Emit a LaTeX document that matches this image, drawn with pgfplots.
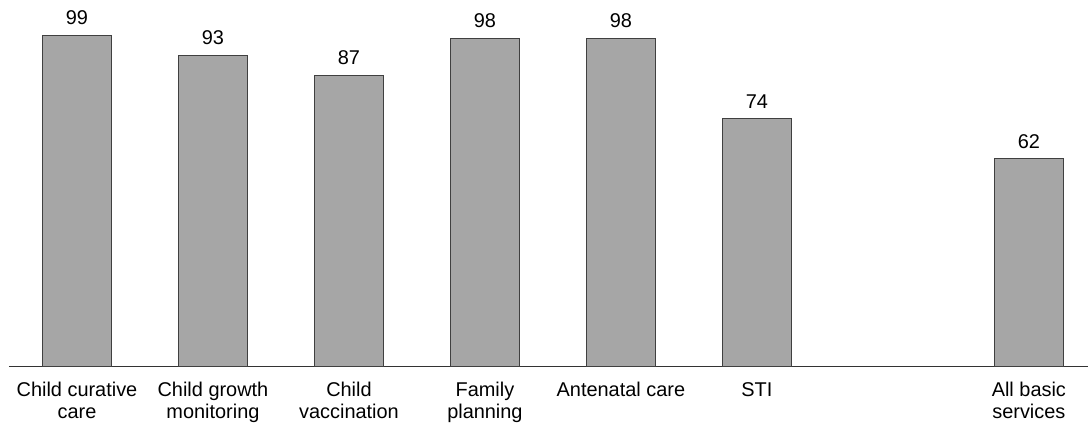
\documentclass[border=0pt]{standalone}
\usepackage{fontspec}
\setmainfont{Liberation Sans}
\usepackage{pgfplots}
\pgfplotsset{compat=1.18}
\usetikzlibrary{calc}
\definecolor{barfill}{HTML}{A6A6A6}
\definecolor{barline}{HTML}{404040}

\begin{document}
\begin{tikzpicture}
\begin{axis}[
    name=ax,
    scale only axis,
    width=1079.2bp,
    height=366bp,
    xmin=-0.5, xmax=7.435,
    ymin=0, ymax=109.5,
    axis x line=bottom,
    axis y line=none,
    x axis line style={-, draw=black!80, line width=0.8bp},
    /pgf/number format/assume math mode=true,
    xtick={0,1,2,3,4,5,7},
    xticklabels={
        {Child curative\\care},
        {Child growth\\monitoring},
        {Child\\vaccination},
        {Family\\planning},
        {Antenatal care},
        {STI},
        {All basic\\services}
    },
    major tick length=0pt,
    xticklabel style={align=center, inner sep=0pt, yshift=-16bp,
        font=\fontsize{20}{22.5}\selectfont},
    ybar,
    bar width=0.502,
    nodes near coords,
    nodes near coords style={font=\fontsize{20}{22.5}\selectfont,
        inner sep=0pt, yshift=10bp, anchor=south},
    clip=false,
]
\addplot[fill=barfill, draw=barline, line width=0.8bp] coordinates {
    (0,99) (1,93) (2,87) (3,98) (4,98) (5,74) (7,62)
};
\end{axis}
\pgfresetboundingbox
\path[use as bounding box] ($(ax.south west)+(-9bp,-59bp)$) rectangle (ax.north east);
\end{tikzpicture}
\end{document}
